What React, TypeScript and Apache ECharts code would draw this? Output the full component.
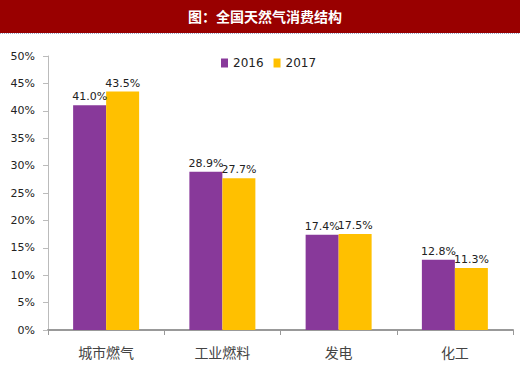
import React, { useEffect, useRef } from "react";
import * as echarts from "echarts";

const categories = ["城市燃气", "工业燃料", "发电", "化工"];
const values2016 = [41.0, 28.9, 17.4, 12.8];
const values2017 = [43.5, 27.7, 17.5, 11.3];
const seriesNames = ["2016", "2017"];
const titleText = "图：全国天然气消费结构";

export default function App() {
  const ref = useRef<HTMLDivElement>(null);
  useEffect(() => {
    const chart = echarts.init(ref.current!, null, { renderer: "svg" });
    const labelStyle = {
      show: true,
      position: "top" as const,
      formatter: (p: any) => p.value.toFixed(1) + "%",
      color: "#222",
      fontSize: 11,
      fontFamily: "DejaVu Sans",
      distance: 3,
    };
    chart.setOption({
      animation: false,
      backgroundColor: "#fff",
      graphic: [
        { type: "rect", left: 0, top: 0, shape: { width: 520, height: 33 }, style: { fill: "#990000" } },
        { type: "line", shape: { x1: 0, y1: 33.5, x2: 520, y2: 33.5 }, style: { stroke: "#9aa6c8", lineWidth: 1, lineDash: [1, 1] } },
        {
          type: "text", x: 265, y: 16,
          style: { text: titleText, fill: "#fff", font: "bold 14px 'Noto Sans CJK SC'", textAlign: "center", textVerticalAlign: "middle" },
        },
      ],
      legend: {
        data: seriesNames,
        left: 221, top: 57,
        padding: 0,
        itemWidth: 7, itemHeight: 9, itemGap: 10,
        icon: "rect",
        textStyle: { fontSize: 12, color: "#222", fontFamily: "DejaVu Sans" },
      },
      grid: { left: 48, right: 7, top: 56, bottom: 37 },
      xAxis: {
        type: "category",
        data: categories,
        axisLine: { lineStyle: { color: "#999", width: 2 } },
        axisTick: { show: true, alignWithLabel: false, length: 5, lineStyle: { color: "#999" } },
        axisLabel: { color: "#444", fontSize: 14, margin: 15, fontFamily: "Noto Sans CJK SC" },
      },
      yAxis: {
        type: "value",
        min: 0, max: 50, interval: 5,
        axisLine: { show: true, lineStyle: { color: "#bbb", width: 1 } },
        axisTick: { show: true, length: 5, lineStyle: { color: "#bbb" } },
        splitLine: { show: false },
        axisLabel: { formatter: "{value}%", color: "#222", fontSize: 11, margin: 13, fontFamily: "DejaVu Sans" },
      },
      series: [
        { name: seriesNames[0], type: "bar", data: values2016, barWidth: 33, barGap: "0%", itemStyle: { color: "#88399A" }, label: labelStyle },
        { name: seriesNames[1], type: "bar", data: values2017, barWidth: 33, barGap: "0%", itemStyle: { color: "#FFC000" }, label: labelStyle },
      ],
    });
    return () => chart.dispose();
  }, []);
  return <div ref={ref} style={{ width: 520, height: 367, position: "fixed", left: 0, top: 0 }} />;
}
